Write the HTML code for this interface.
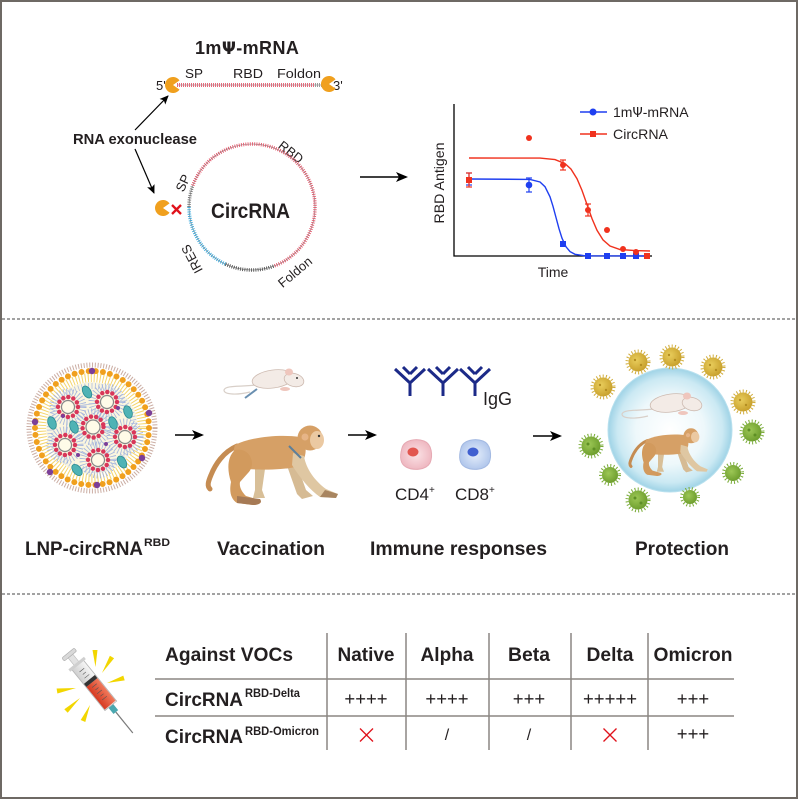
<!DOCTYPE html>
<html><head><meta charset="utf-8"><style>
html,body{margin:0;padding:0;background:#fff;}
svg{display:block;font-family:"Liberation Sans",Arial,sans-serif;}
</style></head><body>
<svg width="800" height="800" viewBox="0 0 800 800" xmlns="http://www.w3.org/2000/svg">
<defs>
<marker id="ah" markerUnits="userSpaceOnUse" markerWidth="12" markerHeight="10" refX="10" refY="5" orient="auto"><path d="M0,0 L12,5 L0,10 L3,5 z" fill="#000"/></marker>
<marker id="ah2" markerUnits="userSpaceOnUse" markerWidth="9" markerHeight="8" refX="8" refY="4" orient="auto"><path d="M0,0 L9,4 L0,8 L2,4 z" fill="#000"/></marker>
<radialGradient id="sph" cx="0.5" cy="0.5" r="0.5">
<stop offset="0" stop-color="#ffffff"/><stop offset="0.55" stop-color="#eef8fb"/><stop offset="0.85" stop-color="#cbe9f3"/><stop offset="1" stop-color="#9fd3e6"/>
</radialGradient>
<radialGradient id="c4" cx="0.5" cy="0.5" r="0.5"><stop offset="0" stop-color="#fbe3e6"/><stop offset="1" stop-color="#efb9c2"/></radialGradient>
<radialGradient id="c8" cx="0.5" cy="0.5" r="0.5"><stop offset="0" stop-color="#e5eefb"/><stop offset="1" stop-color="#b3c8ec"/></radialGradient>
<radialGradient id="vy" cx="0.4" cy="0.4" r="0.6"><stop offset="0" stop-color="#e9cd5c"/><stop offset="1" stop-color="#c9a22e"/></radialGradient>
<radialGradient id="vg" cx="0.4" cy="0.4" r="0.6"><stop offset="0" stop-color="#9cc755"/><stop offset="1" stop-color="#6f9f2f"/></radialGradient>
<linearGradient id="red" x1="0" y1="0" x2="0" y2="1"><stop offset="0" stop-color="#f07a5c"/><stop offset="1" stop-color="#d63a22"/></linearGradient>
<linearGradient id="barrel" x1="0" y1="0" x2="0" y2="1"><stop offset="0" stop-color="#f6f6f6"/><stop offset="1" stop-color="#cfcfcf"/></linearGradient>
</defs>

<rect x="1" y="1" width="796" height="797" fill="#fff" stroke="#6e6964" stroke-width="2"/>
<line x1="2" y1="319" x2="796" y2="319" stroke="#444" stroke-width="1" stroke-dasharray="3 2"/>
<line x1="2" y1="594" x2="796" y2="594" stroke="#444" stroke-width="1" stroke-dasharray="3 2"/>

<!-- ========== TOP SECTION ========== -->
<g fill="#231f20">
<text x="195" y="54" font-size="18" font-weight="bold" letter-spacing="0.4">1m<tspan font-family="DejaVu Sans" font-size="16.5">Ψ</tspan>-mRNA</text>
<text x="185" y="78" font-size="13" textLength="18" lengthAdjust="spacingAndGlyphs">SP</text>
<text x="233" y="78" font-size="13" textLength="30" lengthAdjust="spacingAndGlyphs">RBD</text>
<text x="277" y="78" font-size="13" textLength="44" lengthAdjust="spacingAndGlyphs">Foldon</text>
<text x="156" y="90" font-size="13">5'</text>
<text x="333" y="90" font-size="13">3'</text>
<text x="73" y="144" font-size="15" font-weight="bold" textLength="124" lengthAdjust="spacingAndGlyphs">RNA exonuclease</text>
<text x="211" y="218" font-size="21" font-weight="bold" textLength="79" lengthAdjust="spacingAndGlyphs">CircRNA</text>
<text transform="translate(183,183) rotate(-65)" x="0" y="4.5" font-size="13" text-anchor="middle">SP</text>
<text transform="translate(291,152) rotate(38)" x="0" y="4.5" font-size="13" text-anchor="middle">RBD</text>
<text transform="translate(192,259) rotate(-118)" x="0" y="4.5" font-size="13" text-anchor="middle">IRES</text>
<text transform="translate(295,272) rotate(-40)" x="0" y="4.5" font-size="13" text-anchor="middle">Foldon</text>
</g>

<!-- mRNA strand -->
<line x1="177" y1="85" x2="328" y2="85" stroke="#999" stroke-width="0.8"/>
<line x1="177" y1="85" x2="315" y2="85" stroke="#e46a7c" stroke-width="4" stroke-dasharray="1 1"/>
<line x1="315" y1="85" x2="328" y2="85" stroke="#9a9a9a" stroke-width="4" stroke-dasharray="1 1"/>
<path d="M173,85 L179.55,80.41 A8,8 0 1 0 179.55,89.59 Z" fill="#f0a01e"/>
<path d="M329,84 L335.55,79.41 A8,8 0 1 0 335.55,88.59 Z" fill="#f0a01e"/>

<!-- circle RNA -->
<circle cx="252" cy="207" r="63" fill="none" stroke="#777" stroke-width="0.6"/>
<path d="M192.8,185.5 A63,63 0 1 1 273.5,266.2" fill="none" stroke="#e4576b" stroke-width="3.5" stroke-dasharray="0.9 1.3"/>
<path d="M273.5,266.2 A63,63 0 0 1 225.4,264.1" fill="none" stroke="#555" stroke-width="3.5" stroke-dasharray="0.9 1.3"/>
<path d="M225.4,264.1 A63,63 0 0 1 189,207" fill="none" stroke="#37a8dc" stroke-width="3.5" stroke-dasharray="0.9 1.3"/>
<path d="M189,207 A63,63 0 0 1 192.8,185.5" fill="none" stroke="#777" stroke-width="3.5" stroke-dasharray="0.9 1.3"/>
<path d="M163,208 L169.55,203.41 A8,8 0 1 0 169.55,212.59 Z" fill="#f0a01e"/>
<line x1="172" y1="205" x2="181" y2="214" stroke="#e0121b" stroke-width="2.3"/>
<line x1="181" y1="205" x2="172" y2="214" stroke="#e0121b" stroke-width="2.3"/>

<!-- arrows -->
<line x1="135" y1="130" x2="168" y2="96" stroke="#000" stroke-width="1.2" marker-end="url(#ah2)"/>
<line x1="135" y1="149" x2="154" y2="193" stroke="#000" stroke-width="1.2" marker-end="url(#ah2)"/>
<line x1="360" y1="177" x2="406" y2="177" stroke="#000" stroke-width="1.6" marker-end="url(#ah)"/>

<!-- chart -->
<path d="M454,104 L454,256 L652,256" fill="none" stroke="#000" stroke-width="1.3"/>
<path d="M469,158 L540,158.1 L555,159.6 L565,163.6 L571,169.1 L577,178.7 L582,190.4 L587,204.5 L592,218.6 L597,230.3 L603,239.9 L610,246 L620,249.5 L635,250.6 L650,251" fill="none" stroke="#f0321e" stroke-width="1.4"/>
<path d="M469,179 L530,179.4 L540,182 L545,186.7 L550,196.8 L553,206.3 L556,217.5 L559,228.7 L562,238.2 L566,246.8 L570,251.6 L575,254.3 L585,255.8 L648,256" fill="none" stroke="#1f3ff0" stroke-width="1.4"/>
<g stroke="#1f3ff0" stroke-width="1.2">
<line x1="469" y1="173" x2="469" y2="185"/><line x1="466" y1="173" x2="472" y2="173"/><line x1="466" y1="185" x2="472" y2="185"/>
<line x1="529" y1="178" x2="529" y2="192"/><line x1="526" y1="178" x2="532" y2="178"/><line x1="526" y1="192" x2="532" y2="192"/>
</g>
<g fill="#1f3ff0">
<circle cx="529" cy="185" r="3.3"/>
<rect x="560" y="241" width="6" height="6"/>
<rect x="585" y="253" width="6" height="6"/><rect x="604" y="253" width="6" height="6"/><rect x="620" y="253" width="6" height="6"/><rect x="633" y="253" width="6" height="6"/>
</g>
<g stroke="#f0321e" stroke-width="1.2">
<line x1="469" y1="173" x2="469" y2="187"/><line x1="466" y1="173" x2="472" y2="173"/><line x1="466" y1="187" x2="472" y2="187"/>
<line x1="563" y1="160" x2="563" y2="170"/><line x1="560" y1="160" x2="566" y2="160"/><line x1="560" y1="170" x2="566" y2="170"/>
<line x1="588" y1="204" x2="588" y2="216"/><line x1="585" y1="204" x2="591" y2="204"/><line x1="585" y1="216" x2="591" y2="216"/>
</g>
<g fill="#f0321e">
<rect x="466" y="177" width="6" height="6"/>
<circle cx="529" cy="138" r="3"/>
<circle cx="563" cy="165" r="3"/>
<circle cx="588" cy="210" r="3"/>
<circle cx="607" cy="230" r="3"/>
<circle cx="623" cy="249" r="3"/>
<circle cx="636" cy="252" r="3"/>
<rect x="644" y="253" width="6" height="6"/>
</g>
<line x1="580" y1="112" x2="607" y2="112" stroke="#1f3ff0" stroke-width="1.5"/>
<circle cx="593" cy="112" r="3.5" fill="#1f3ff0"/>
<line x1="580" y1="134" x2="607" y2="134" stroke="#f0321e" stroke-width="1.5"/>
<rect x="590" y="131" width="6" height="6" fill="#f0321e"/>
<g fill="#231f20" font-size="14">
<text x="613" y="117">1m<tspan font-family="DejaVu Sans" font-size="13">Ψ</tspan>-mRNA</text>
<text x="613" y="139" textLength="55" lengthAdjust="spacingAndGlyphs">CircRNA</text>
<text transform="translate(439,183) rotate(-90)" x="0" y="5" text-anchor="middle" textLength="81" lengthAdjust="spacingAndGlyphs">RBD Antigen</text>
<text x="553" y="277" text-anchor="middle">Time</text>
</g>

<!-- ========== MIDDLE SECTION ========== -->
<!-- LNP -->
<g>
<circle cx="92" cy="428" r="63" fill="none" stroke="#b58a7c" stroke-width="5" stroke-dasharray="1 1.8" opacity="0.7"/>
<circle cx="92" cy="428" r="50" fill="none" stroke="#f4d56c" stroke-width="10" stroke-dasharray="1 2"/>
<circle cx="92" cy="428" r="46" fill="#fbf6df"/>
<circle cx="92" cy="428" r="42" fill="none" stroke="#aebde0" stroke-width="6" stroke-dasharray="0.8 2.6"/>
<circle cx="92" cy="428" r="57" fill="none" stroke="#f0a01e" stroke-width="6" stroke-linecap="round" stroke-dasharray="0 7.162"/>
<g stroke="#a3b4de" stroke-width="0.8" opacity="0.9">
<line x1="68" y1="407" x2="93" y2="427"/><line x1="107" y1="402" x2="93" y2="427"/><line x1="125" y1="437" x2="93" y2="427"/><line x1="65" y1="445" x2="93" y2="427"/><line x1="98" y1="460" x2="93" y2="427"/>
<line x1="68" y1="407" x2="107" y2="402"/><line x1="65" y1="445" x2="98" y2="460"/><line x1="98" y1="460" x2="125" y2="437"/><line x1="68" y1="407" x2="65" y2="445"/>
</g>
<g fill="none" stroke="#a3b4de" stroke-width="7" stroke-dasharray="0.8 2.2">
<circle cx="68" cy="407" r="15"/><circle cx="107" cy="402" r="15"/><circle cx="93" cy="427" r="15"/><circle cx="125" cy="437" r="15"/><circle cx="65" cy="445" r="15"/><circle cx="98" cy="460" r="15"/>
</g>
<g fill="#fffbe8" stroke="#888" stroke-width="1.2">
<circle cx="68" cy="407" r="6.5"/><circle cx="107" cy="402" r="6.5"/><circle cx="93" cy="427" r="7"/><circle cx="125" cy="437" r="6.5"/><circle cx="65" cy="445" r="6.5"/><circle cx="98" cy="460" r="6.5"/>
</g>
<g fill="none" stroke="#d8375a" stroke-width="4.5" stroke-linecap="round" stroke-dasharray="0 5.24">
<circle cx="68" cy="407" r="10"/><circle cx="107" cy="402" r="10"/><circle cx="93" cy="427" r="10.5"/><circle cx="125" cy="437" r="10"/><circle cx="65" cy="445" r="10"/><circle cx="98" cy="460" r="10"/>
</g>
<g fill="#4fb3b5" stroke="#2a8a8f" stroke-width="0.8">
<ellipse cx="87" cy="392" rx="4" ry="6.5" transform="rotate(-30 87 392)"/>
<ellipse cx="52" cy="423" rx="4" ry="6.5" transform="rotate(-20 52 423)"/>
<ellipse cx="74" cy="427" rx="4" ry="6.5" transform="rotate(-20 74 427)"/>
<ellipse cx="113" cy="423" rx="4" ry="6.5" transform="rotate(-20 113 423)"/>
<ellipse cx="128" cy="412" rx="4" ry="6.5" transform="rotate(-20 128 412)"/>
<ellipse cx="77" cy="470" rx="4" ry="6.5" transform="rotate(-40 77 470)"/>
<ellipse cx="122" cy="462" rx="4" ry="6.5" transform="rotate(-30 122 462)"/>
</g>
<g fill="#7b3f98">
<circle cx="92" cy="371" r="3.2"/><circle cx="35" cy="422" r="3.2"/><circle cx="50" cy="472" r="3.2"/><circle cx="97" cy="485" r="3.2"/><circle cx="149" cy="413" r="3.2"/><circle cx="142" cy="458" r="3.2"/>
<circle cx="63" cy="416" r="2"/><circle cx="118" cy="408" r="2"/><circle cx="106" cy="444" r="2"/><circle cx="78" cy="455" r="2"/>
</g>
</g>

<line x1="175" y1="435" x2="202" y2="435" stroke="#000" stroke-width="1.5" marker-end="url(#ah)"/>
<line x1="348" y1="435" x2="375" y2="435" stroke="#000" stroke-width="1.5" marker-end="url(#ah)"/>
<line x1="533" y1="436" x2="560" y2="436" stroke="#000" stroke-width="1.5" marker-end="url(#ah)"/>

<!-- mouse (vaccination) -->
<g>
<path d="M255,385 C240,387 226,385 224,390 C224,395 238,395 250,392" fill="none" stroke="#d8cfc8" stroke-width="1.2"/>
<ellipse cx="273" cy="379" rx="21" ry="9" fill="#f3ebe6" stroke="#cdbab0" stroke-width="0.8" transform="rotate(-8 273 379)"/>
<ellipse cx="294" cy="380" rx="10" ry="6.5" fill="#f3ebe6" stroke="#cdbab0" stroke-width="0.8" transform="rotate(15 294 380)"/>
<ellipse cx="289" cy="372" rx="4" ry="3.5" fill="#efc6bd"/>
<circle cx="297" cy="378" r="1" fill="#333"/>
<ellipse cx="285" cy="389" rx="5" ry="2" fill="#efc6bd"/>
<line x1="245" y1="398" x2="257" y2="389" stroke="#6a8fb0" stroke-width="2"/>
</g>

<!-- monkey (vaccination) -->
<g transform="translate(205,420)">
<path d="M32,26 C18,32 10,45 6,55 C3,62 2,66 5,69" fill="none" stroke="#c58c52" stroke-width="5" stroke-linecap="round"/>
<path d="M50,40 L61,42 L57,70 L60,78 L48,78 L50,70 Z" fill="#d8bf98"/>
<path d="M80,40 L91,42 L101,70 L108,76 L97,79 L92,74 Z" fill="#d6bb94"/>
<path d="M30,25 C45,17 75,14 95,17 C104,25 102,42 91,47 C76,50 56,50 43,49 C32,47 26,36 30,25 Z" fill="#d6a066"/>
<path d="M30,30 C45,27 52,44 43,53 L35,62 C34,67 37,72 41,76 L55,80 C58,83 53,85 48,85 L32,83 C26,79 24,72 26,62 C22,50 22,37 30,30 Z" fill="#d29a5d"/>
<path d="M32,76 L55,79 C58,83 53,85 48,85 L32,83 Z" fill="#a67a55"/>
<path d="M88,33 L99,36 C101,49 110,61 121,69 L133,74 L131,78 L115,77 C105,70 95,58 87,45 Z" fill="#dfc7a2"/>
<path d="M120,70 L133,74 L131,78 L115,77 Z" fill="#a88560"/>
<circle cx="105" cy="18" r="12.5" fill="#d6a066"/>
<ellipse cx="112" cy="20" rx="7" ry="9" fill="#ebc9a2"/>
<circle cx="100" cy="17" r="3.5" fill="#e6b487"/>
<circle cx="114" cy="16" r="1.2" fill="#333"/>
<line x1="84" y1="26" x2="96" y2="38" stroke="#5d7f9a" stroke-width="2"/>
</g>

<!-- antibodies -->
<g stroke="#1c2a88" stroke-width="3" fill="none" stroke-linecap="butt">
<path d="M410,396 L410,381 M395,369 L410,383 L425,369 M403,367 L410,374 M417,367 L410,374"/>
<path d="M443,396 L443,381 M428,369 L443,383 L458,369 M436,367 L443,374 M450,367 L443,374"/>
<path d="M475,396 L475,381 M460,369 L475,383 L490,369 M468,367 L475,374 M482,367 L475,374"/>
</g>
<text x="483" y="405" font-size="18" fill="#231f20">IgG</text>

<!-- cells -->
<path d="M402,448 C404,440 416,438 424,441 C432,444 433,456 430,463 C426,470 414,471 406,467 C399,463 400,455 402,448 Z" fill="url(#c4)" stroke="#e6a9b3" stroke-width="1"/>
<ellipse cx="413" cy="452" rx="5.5" ry="4.5" fill="#e2564f"/>
<path d="M461,448 C463,440 475,438 483,441 C491,444 492,456 489,463 C485,470 473,471 465,467 C458,463 459,455 461,448 Z" fill="url(#c8)" stroke="#a3b9e2" stroke-width="1"/>
<ellipse cx="473" cy="452" rx="5.5" ry="4.5" fill="#4060d0"/>
<g fill="#231f20" font-size="17">
<text x="395" y="500">CD4<tspan font-size="10" dy="-7">+</tspan></text>
<text x="455" y="500">CD8<tspan font-size="10" dy="-7">+</tspan></text>
</g>

<!-- protection -->
<circle cx="670" cy="430" r="62" fill="url(#sph)" stroke="#b8e0ee" stroke-width="1"/>
<g transform="translate(398,24)">
<path d="M255,385 C240,387 226,385 224,390 C224,395 238,395 250,392" fill="none" stroke="#d8cfc8" stroke-width="1.2"/>
<ellipse cx="273" cy="379" rx="21" ry="9" fill="#f3ebe6" stroke="#cdbab0" stroke-width="0.8" transform="rotate(-8 273 379)"/>
<ellipse cx="294" cy="380" rx="10" ry="6.5" fill="#f3ebe6" stroke="#cdbab0" stroke-width="0.8" transform="rotate(15 294 380)"/>
<ellipse cx="289" cy="372" rx="4" ry="3.5" fill="#efc6bd"/>
<ellipse cx="285" cy="389" rx="5" ry="2" fill="#efc6bd"/>
</g>
<g transform="translate(628,425) scale(0.6)">
<path d="M32,26 C18,32 10,45 6,55 C3,62 2,66 5,69" fill="none" stroke="#c58c52" stroke-width="5" stroke-linecap="round"/>
<path d="M50,40 L61,42 L57,70 L60,78 L48,78 L50,70 Z" fill="#d8bf98"/>
<path d="M80,40 L91,42 L101,70 L108,76 L97,79 L92,74 Z" fill="#d6bb94"/>
<path d="M30,25 C45,17 75,14 95,17 C104,25 102,42 91,47 C76,50 56,50 43,49 C32,47 26,36 30,25 Z" fill="#d6a066"/>
<path d="M30,30 C45,27 52,44 43,53 L35,62 C34,67 37,72 41,76 L55,80 C58,83 53,85 48,85 L32,83 C26,79 24,72 26,62 C22,50 22,37 30,30 Z" fill="#d29a5d"/>
<path d="M88,33 L99,36 C101,49 110,61 121,69 L133,74 L131,78 L115,77 C105,70 95,58 87,45 Z" fill="#dfc7a2"/>
<circle cx="105" cy="18" r="12.5" fill="#d6a066"/>
<ellipse cx="112" cy="20" rx="7" ry="9" fill="#ebc9a2"/>
<circle cx="100" cy="17" r="3.5" fill="#e6b487"/>
</g>

<!-- viruses -->
<g>
<g transform="translate(638,362)"><circle r="11" fill="none" stroke="#d1ad3c" stroke-width="3" stroke-dasharray="1 2.2"/><circle r="9.5" fill="url(#vy)"/><circle cx="-3" cy="-2" r="1.2" fill="#b38e22"/><circle cx="3" cy="3" r="1.2" fill="#b38e22"/></g>
<g transform="translate(672,357)"><circle r="11" fill="none" stroke="#d1ad3c" stroke-width="3" stroke-dasharray="1 2.2"/><circle r="9.5" fill="url(#vy)"/><circle cx="-3" cy="-2" r="1.2" fill="#b38e22"/><circle cx="3" cy="3" r="1.2" fill="#b38e22"/></g>
<g transform="translate(713,367)"><circle r="11" fill="none" stroke="#d1ad3c" stroke-width="3" stroke-dasharray="1 2.2"/><circle r="9.5" fill="url(#vy)"/><circle cx="-3" cy="-2" r="1.2" fill="#b38e22"/><circle cx="3" cy="3" r="1.2" fill="#b38e22"/></g>
<g transform="translate(603,387)"><circle r="11" fill="none" stroke="#d1ad3c" stroke-width="3" stroke-dasharray="1 2.2"/><circle r="9.5" fill="url(#vy)"/><circle cx="-3" cy="-2" r="1.2" fill="#b38e22"/><circle cx="3" cy="3" r="1.2" fill="#b38e22"/></g>
<g transform="translate(743,402)"><circle r="11" fill="none" stroke="#d1ad3c" stroke-width="3" stroke-dasharray="1 2.2"/><circle r="9.5" fill="url(#vy)"/><circle cx="-3" cy="-2" r="1.2" fill="#b38e22"/><circle cx="3" cy="3" r="1.2" fill="#b38e22"/></g>
<g transform="translate(752,432)"><circle r="11" fill="none" stroke="#7aac38" stroke-width="3" stroke-dasharray="1 2.2"/><circle r="9.5" fill="url(#vg)"/><circle cx="-3" cy="-2" r="1.5" fill="#5e8f25"/><circle cx="3" cy="3" r="1.5" fill="#5e8f25"/></g>
<g transform="translate(591,446)"><circle r="11" fill="none" stroke="#7aac38" stroke-width="3" stroke-dasharray="1 2.2"/><circle r="9.5" fill="url(#vg)"/><circle cx="-3" cy="-2" r="1.5" fill="#5e8f25"/><circle cx="3" cy="3" r="1.5" fill="#5e8f25"/></g>
<g transform="translate(610,475)"><circle r="9.5" fill="none" stroke="#7aac38" stroke-width="3" stroke-dasharray="1 2.2"/><circle r="8" fill="url(#vg)"/></g>
<g transform="translate(733,473)"><circle r="9.5" fill="none" stroke="#7aac38" stroke-width="3" stroke-dasharray="1 2.2"/><circle r="8" fill="url(#vg)"/></g>
<g transform="translate(638,500)"><circle r="11" fill="none" stroke="#7aac38" stroke-width="3" stroke-dasharray="1 2.2"/><circle r="9.5" fill="url(#vg)"/><circle cx="-3" cy="-2" r="1.5" fill="#5e8f25"/><circle cx="3" cy="3" r="1.5" fill="#5e8f25"/></g>
<g transform="translate(690,497)"><circle r="8.5" fill="none" stroke="#7aac38" stroke-width="3" stroke-dasharray="1 2.2"/><circle r="7" fill="url(#vg)"/></g>
</g>

<g fill="#231f20" font-size="19" font-weight="bold">
<text x="25" y="555" textLength="118" lengthAdjust="spacingAndGlyphs">LNP-circRNA</text>
<text x="144" y="546" font-size="11" textLength="26" lengthAdjust="spacingAndGlyphs">RBD</text>
<text x="217" y="555" textLength="108" lengthAdjust="spacingAndGlyphs">Vaccination</text>
<text x="370" y="555" textLength="177" lengthAdjust="spacingAndGlyphs">Immune responses</text>
<text x="635" y="555" textLength="94" lengthAdjust="spacingAndGlyphs">Protection</text>
</g>

<!-- ========== BOTTOM SECTION ========== -->
<!-- syringe -->
<g fill="#f2d600">
<polygon points="92.5,650 97.5,650 95.5,667"/>
<polygon points="114.1,658.3 109.9,655.7 102,673"/>
<polygon points="124.7,680.4 123.3,675.6 107,683"/>
<polygon points="57.4,693.5 56.6,688.5 76,688"/>
<polygon points="67.7,712.8 64.3,709.2 80,698"/>
<polygon points="85.3,722 80.7,720 90,705"/>
</g>
<g transform="translate(68,653) rotate(51)">
<line x1="76" y1="0" x2="103" y2="0" stroke="#7a7a7a" stroke-width="1.2"/>
<rect x="67" y="-3" width="9" height="6" fill="#4aa8b0"/>
<rect x="4" y="-3" width="12" height="6" fill="#e2e2e2" stroke="#bbb" stroke-width="0.6"/>
<rect x="0" y="-8" width="4" height="16" rx="1.5" fill="#d9d9d9" stroke="#aaa" stroke-width="0.6"/>
<rect x="14" y="-7.5" width="54" height="15" fill="url(#barrel)" stroke="#b5b5b5" stroke-width="0.8"/>
<rect x="13" y="-10" width="3" height="20" fill="#cfcfcf"/>
<rect x="38" y="-7" width="29" height="14" fill="url(#red)"/>
<rect x="34" y="-7" width="4" height="14" fill="#333"/>
<g stroke="#555" stroke-width="0.6">
<line x1="22" y1="-3" x2="22" y2="3"/><line x1="26" y1="-2" x2="26" y2="2"/><line x1="30" y1="-3" x2="30" y2="3"/><line x1="42" y1="-3" x2="42" y2="3"/><line x1="46" y1="-2" x2="46" y2="2"/><line x1="50" y1="-3" x2="50" y2="3"/><line x1="54" y1="-2" x2="54" y2="2"/><line x1="58" y1="-3" x2="58" y2="3"/>
</g>
</g>

<!-- table -->
<g stroke="#8b8682" stroke-width="1.5">
<line x1="155" y1="679" x2="734" y2="679"/>
<line x1="155" y1="716" x2="734" y2="716"/>
<line x1="327" y1="633" x2="327" y2="750"/>
<line x1="406" y1="633" x2="406" y2="750"/>
<line x1="489" y1="633" x2="489" y2="750"/>
<line x1="571" y1="633" x2="571" y2="750"/>
<line x1="648" y1="633" x2="648" y2="750"/>
</g>
<g fill="#231f20" font-size="19" font-weight="bold">
<text x="165" y="661" textLength="128" lengthAdjust="spacingAndGlyphs">Against VOCs</text>
<text x="366" y="661" text-anchor="middle" textLength="57" lengthAdjust="spacingAndGlyphs">Native</text>
<text x="447" y="661" text-anchor="middle" textLength="53" lengthAdjust="spacingAndGlyphs">Alpha</text>
<text x="529" y="661" text-anchor="middle" textLength="42" lengthAdjust="spacingAndGlyphs">Beta</text>
<text x="610" y="661" text-anchor="middle" textLength="47" lengthAdjust="spacingAndGlyphs">Delta</text>
<text x="693" y="661" text-anchor="middle" textLength="79" lengthAdjust="spacingAndGlyphs">Omicron</text>
<text x="165" y="706" textLength="78" lengthAdjust="spacingAndGlyphs">CircRNA</text>
<text x="245" y="697" font-size="11.5" textLength="55" lengthAdjust="spacingAndGlyphs">RBD-Delta</text>
<text x="165" y="743" textLength="78" lengthAdjust="spacingAndGlyphs">CircRNA</text>
<text x="245" y="735" font-size="11.5" textLength="74" lengthAdjust="spacingAndGlyphs">RBD-Omicron</text>
</g>
<g fill="#231f20" font-size="18.5" text-anchor="middle">
<text x="366" y="705">++++</text>
<text x="447" y="705">++++</text>
<text x="529" y="705">+++</text>
<text x="610" y="705">+++++</text>
<text x="693" y="705">+++</text>
<text x="447" y="740" font-size="16">/</text>
<text x="529" y="740" font-size="16">/</text>
<text x="693" y="740">+++</text>
</g>
<g stroke="#e0121b" stroke-width="1.3">
<line x1="360" y1="728.5" x2="373" y2="741.5"/><line x1="373" y1="728.5" x2="360" y2="741.5"/>
<line x1="603.5" y1="728.5" x2="616.5" y2="741.5"/><line x1="616.5" y1="728.5" x2="603.5" y2="741.5"/>
</g>
</svg>
</body></html>
